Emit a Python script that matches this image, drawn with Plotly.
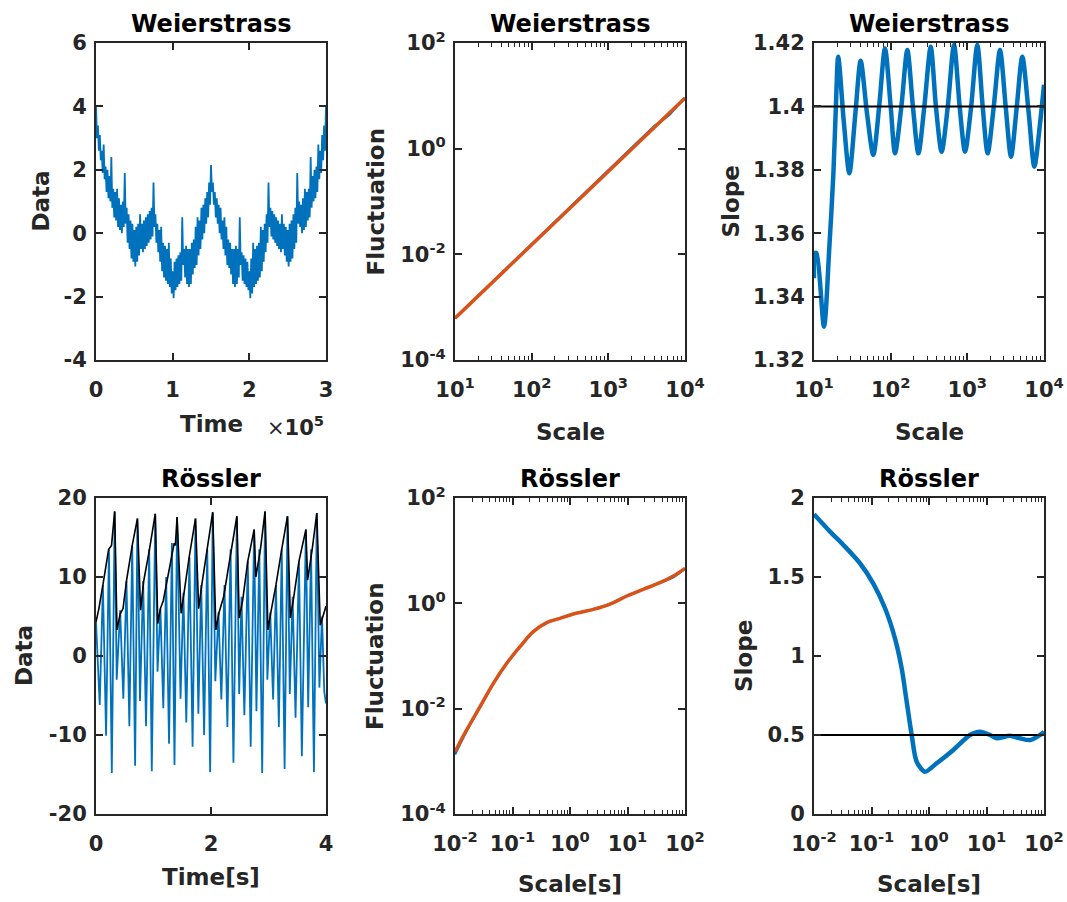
import plotly.graph_objects as go

W, H = 1067, 902
FONT = "DejaVu Sans"
DARK = "#262626"
BLUE = "#0072BD"
ORANGE = "#D95319"

# ---------------- data ----------------
# Panel 1: Weierstrass time series (time in samples, value) - alternating upper/lower band samples
weier_time = [i * 1250 for i in range(241)]
weier_data = [
    4.0, 3.0, 3.4, 2.6, 3.1, 2.3, 2.6, 1.9, 2.8, 1.7,
    2.1, 1.3, 2.0, 1.1, 1.8, 1.0, 2.4, 0.8, 1.4, 0.5,
    1.3, 0.4, 1.4, 0.2, 1.1, 0.1, 0.9, 0.0, 1.0, 0.2,
    1.9, 0.3, 0.8, -0.3, 0.6, -0.5, 0.4, -0.8, 0.3, -0.9,
    0.1, -1.05, 0.2, -0.9, 0.3, -0.7, 0.6, -0.5, 0.3, -0.6,
    0.4, -0.5, 0.5, -0.4, 0.6, -0.3, 0.7, -0.2, 0.8, -0.1,
    1.6, 0.2, 0.6, -0.3, 0.3, -0.6, 0.1, -0.9, 0.2, -1.2,
    -0.3, -1.4, -0.4, -1.5, -0.5, -1.6, -0.3, -1.7, -0.8, -1.9,
    -1.2, -2.05, -0.9, -1.8, -0.8, -1.7, -0.7, -1.6, -0.6, -1.5,
    0.5, -1.0, -0.5, -1.4, -0.4, -1.6, -0.5, -1.7, -0.5, -1.6,
    -0.3, -1.3, -0.2, -1.1, 0.2, -1.0, 0.5, -0.7, 0.4, -0.5,
    0.8, -0.2, 0.9, 0.0, 1.1, 0.3, 1.3, 0.5, 1.6, 0.9,
    2.15, 1.3,
    1.6, 0.9, 1.3, 0.5, 1.1, 0.3, 0.9, 0.0, 0.8, -0.2,
    0.4, -0.5, 0.5, -0.7, 0.2, -1.0, -0.2, -1.1, -0.3, -1.3,
    -0.5, -1.6, -0.5, -1.7, -0.4, -1.6, -0.5, -1.4, 0.5, -1.0,
    -0.6, -1.5, -0.7, -1.6, -0.8, -1.7, -0.9, -1.8, -1.2, -2.05,
    -0.8, -1.9, -0.3, -1.7, -0.5, -1.6, -0.4, -1.5, -0.3, -1.4,
    0.2, -1.2, 0.1, -0.9, 0.3, -0.6, 0.6, -0.3, 1.6, 0.2,
    0.8, -0.1, 0.7, -0.2, 0.6, -0.3, 0.5, -0.4, 0.4, -0.5,
    0.3, -0.6, 0.6, -0.5, 0.3, -0.7, 0.2, -0.9, 0.1, -1.05,
    0.3, -0.9, 0.4, -0.8, 0.6, -0.5, 0.8, -0.3, 1.9, 0.3,
    1.0, 0.2, 0.9, 0.0, 1.1, 0.1, 1.4, 0.2, 1.3, 0.4,
    1.4, 0.5, 2.4, 0.8, 1.8, 1.0, 2.0, 1.1, 2.1, 1.3,
    2.8, 1.7, 2.6, 1.9, 3.1, 2.3, 3.4, 2.6, 4.0,
]

# Panel 2: Weierstrass fluctuation function
weier_scale = [10, 20, 50, 100, 200, 500, 1000, 2000, 4000, 5000, 6300, 8000, 10000]
weier_fluct = [6.2e-4, 1.63e-3, 5.9e-3, 1.55e-2, 4.08e-2, 0.148, 0.389, 1.03,
               2.7, 3.4, 4.4, 6.6, 9.1]
weier_fit_scale = [10, 10000]
weier_fit_fluct = [6.2e-4, 9.1]

# Panel 3: Weierstrass local slope
weier_slope_scale = [10.0, 10.3, 10.8, 13.5, 15.8, 17.9, 19.3, 20.7, 24.5, 28.9,
                     34.7, 40.6, 49.0, 59.4, 70.8, 84.3, 100, 114, 138, 165,
                     195, 230, 275, 333, 389, 462, 556, 670, 794, 933,
                     1122, 1349, 1585, 1841, 2213, 2667, 3162, 3715, 4416, 5212,
                     6310, 7482, 8913, 10000]
weier_slope = [1.3458, 1.3537, 1.3537, 1.3305, 1.3550, 1.3789, 1.4000, 1.4157, 1.3950, 1.3789,
               1.3980, 1.4144, 1.3980, 1.3847, 1.4000, 1.4183, 1.4000, 1.3852, 1.4000, 1.4178,
               1.4000, 1.3852, 1.4000, 1.4188, 1.4000, 1.3857, 1.4000, 1.4194, 1.4000, 1.3857,
               1.4000, 1.4194, 1.4000, 1.3852, 1.4000, 1.4178, 1.4000, 1.3841, 1.4000, 1.4157,
               1.3980, 1.3810, 1.3950, 1.4068]
weier_ref_slope = 1.4

# Panel 4: Rössler x-component and its upper envelope
ross_t = [0.000, 0.065, 0.120, 0.175, 0.225, 0.275, 0.325, 0.360,
          0.420, 0.475, 0.530, 0.580, 0.630, 0.680, 0.720, 0.765,
          0.820, 0.870, 0.925, 0.970, 1.030, 1.070,
          1.120, 1.170, 1.220, 1.270, 1.320, 1.365, 1.410, 1.470,
          1.520, 1.570, 1.625, 1.680, 1.730, 1.780,
          1.830, 1.880, 1.935, 1.985, 2.030, 2.075,
          2.130, 2.180, 2.235, 2.285, 2.340, 2.390, 2.450, 2.490,
          2.530, 2.580, 2.640, 2.690, 2.750, 2.790, 2.840, 2.890, 2.940, 2.980,
          3.030, 3.080, 3.130, 3.180, 3.230, 3.280, 3.330, 3.370,
          3.420, 3.470, 3.530, 3.580, 3.650, 3.690, 3.740, 3.790, 3.840, 3.885,
          3.930, 3.970, 4.000]
ross_x = [4.3, -6.2, 9.0, -10.1, 13.5, -14.8, 18.3, -3.0,
          5.8, -5.4, 9.5, -8.9, 14.0, -13.9, 17.4, -5.7,
          9.5, -8.9, 13.5, -14.6, 18.0, -2.0,
          6.0, -6.6, 10.0, -11.1, 14.3, -13.8, 17.6, -5.4,
          8.0, -8.4, 12.5, -11.5, 17.4, -7.3,
          9.0, -10.0, 13.5, -14.7, 18.2, -3.2,
          5.5, -5.5, 9.0, -9.0, 13.5, -13.5, 17.7, -4.8,
          7.5, -7.5, 12.0, -11.5, 16.0, -7.0, 13.5, -14.8, 18.3, -3.0,
          5.5, -5.5, 9.0, -9.0, 13.5, -14.3, 17.7, -4.8,
          7.5, -7.8, 12.0, -12.7, 16.0, -6.5, 13.5, -14.7, 18.1, -4.0,
          5.0, -4.5, -6.0]
env_t = [0.00, 0.05, 0.12, 0.22, 0.27, 0.325, 0.365, 0.42, 0.47, 0.53, 0.63, 0.72,
         0.775, 0.83, 0.93, 1.03, 1.075, 1.12, 1.17, 1.26, 1.36, 1.38, 1.41,
         1.48, 1.53, 1.62, 1.73, 1.785, 1.84, 1.93, 2.03, 2.085, 2.14, 2.22, 2.34, 2.45,
         2.49, 2.55, 2.64, 2.75, 2.78, 2.86, 2.94, 2.99, 3.04, 3.13, 3.23, 3.33,
         3.38, 3.43, 3.53, 3.65, 3.68, 3.76, 3.84, 3.90, 4.00]
env_x = [4.3, 6.0, 9.0, 13.5, 14.0, 18.3, 3.3, 5.3, 6.0, 9.5, 14.0, 17.4,
         5.8, 9.5, 13.5, 18.0, 4.1, 6.0, 7.0, 10.5, 14.3, 14.0, 17.6,
         5.4, 8.0, 12.5, 17.4, 6.0, 9.0, 13.5, 18.2, 3.3, 5.5, 7.5, 13.0, 17.7,
         4.8, 7.0, 12.0, 16.0, 10.0, 13.5, 18.3, 3.3, 5.5, 9.0, 13.5, 17.7,
         4.8, 7.0, 12.0, 16.0, 9.6, 13.5, 18.1, 3.9, 6.3]

# Panel 5: Rössler fluctuation function
ross_scale = [0.01, 0.01596, 0.0272, 0.0465, 0.0793, 0.135, 0.230, 0.394, 0.670,
              1.14, 2.54, 4.97, 9.68, 18.8, 36.7, 62.7, 100]
ross_fluct = [1.35e-3, 3.8e-3, 1.07e-2, 3.0e-2, 7.2e-2, 0.150, 0.290, 0.430, 0.519,
              0.628, 0.769, 0.970, 1.377, 1.845, 2.466, 3.15, 4.62]
ross_fit = [1.52e-3, 3.94e-3, 1.09e-2, 3.03e-2, 7.26e-2, 0.150, 0.290, 0.430, 0.519,
            0.628, 0.769, 0.970, 1.377, 1.845, 2.466, 3.304, 4.62]

# Panel 6: Rössler local slope
ross_slope_scale = [0.01, 0.019, 0.0324, 0.063, 0.107, 0.172, 0.256, 0.335, 0.409,
                    0.5, 0.611, 0.851, 1.36, 2.65, 5.16, 7.71, 11.5, 15.0, 25.6,
                    38.3, 57.1, 85.1, 100]
ross_slope = [1.897, 1.787, 1.703, 1.587, 1.460, 1.302, 1.112, 0.922, 0.711,
              0.500, 0.331, 0.268, 0.321, 0.405, 0.500, 0.521, 0.500, 0.479, 0.496,
              0.479, 0.468, 0.500, 0.520]
ross_ref_slope = 0.5

# tick definitions
t1_xvals, t1_xtext = [0, 1e5, 2e5, 3e5], ["0", "1", "2", "3"]
t1_yvals = [-4, -2, 0, 2, 4, 6]
wlog_xvals = [10, 100, 1000, 10000]
wlog_xtext = ["10<sup>1</sup>", "10<sup>2</sup>", "10<sup>3</sup>", "10<sup>4</sup>"]
flog_yvals = [1e-4, 1e-2, 1, 100]
flog_ytext = ["10<sup>-4</sup>", "10<sup>-2</sup>", "10<sup>0</sup>", "10<sup>2</sup>"]
t3_yvals = [1.32, 1.34, 1.36, 1.38, 1.40, 1.42]
t3_ytext = ["1.32", "1.34", "1.36", "1.38", "1.4", "1.42"]
t4_xvals = [0, 2, 4]
t4_yvals = [-20, -10, 0, 10, 20]
rlog_xvals = [0.01, 0.1, 1, 10, 100]
rlog_xtext = ["10<sup>-2</sup>", "10<sup>-1</sup>", "10<sup>0</sup>", "10<sup>1</sup>", "10<sup>2</sup>"]
t6_yvals = [0, 0.5, 1, 1.5, 2]
t6_ytext = ["0", "0.5", "1", "1.5", "2"]

# ---------------- layout geometry (pixels) ----------------
cols = [(96, 326), (455, 685), (814, 1044)]
rows = [(43, 360), (498, 814)]


def fx(p):
    return p / W


def fy(p):
    return 1 - p / H


fig = go.Figure()

fig.add_trace(go.Scatter(x=weier_time, y=weier_data, mode="lines",
                         line=dict(color=BLUE, width=1.8, simplify=False), xaxis="x", yaxis="y"))
fig.add_trace(go.Scatter(x=weier_scale, y=weier_fluct, mode="lines",
                         line=dict(color=BLUE, width=2.5), xaxis="x2", yaxis="y2"))
fig.add_trace(go.Scatter(x=weier_fit_scale, y=weier_fit_fluct, mode="lines",
                         line=dict(color=ORANGE, width=3.5), xaxis="x2", yaxis="y2"))
fig.add_trace(go.Scatter(x=weier_slope_scale, y=weier_slope, mode="lines",
                         line=dict(color=BLUE, width=4.5, shape="spline", smoothing=0.8),
                         xaxis="x3", yaxis="y3"))
fig.add_trace(go.Scatter(x=[weier_slope_scale[0], weier_slope_scale[-1]],
                         y=[weier_ref_slope, weier_ref_slope], mode="lines",
                         line=dict(color="black", width=2), xaxis="x3", yaxis="y3"))
fig.add_trace(go.Scatter(x=ross_t, y=ross_x, mode="lines",
                         line=dict(color=BLUE, width=1.8, simplify=False), xaxis="x4", yaxis="y4"))
fig.add_trace(go.Scatter(x=env_t, y=env_x, mode="lines",
                         line=dict(color="black", width=1.6), xaxis="x4", yaxis="y4"))
fig.add_trace(go.Scatter(x=ross_scale, y=ross_fluct, mode="lines",
                         line=dict(color=BLUE, width=2.5, shape="spline"), xaxis="x5", yaxis="y5"))
fig.add_trace(go.Scatter(x=ross_scale, y=ross_fit, mode="lines",
                         line=dict(color=ORANGE, width=3.5, shape="spline"), xaxis="x5", yaxis="y5"))
fig.add_trace(go.Scatter(x=ross_slope_scale, y=ross_slope, mode="lines",
                         line=dict(color=BLUE, width=4.5, shape="spline", smoothing=0.8),
                         xaxis="x6", yaxis="y6"))
fig.add_trace(go.Scatter(x=[ross_slope_scale[0], ross_slope_scale[-1]],
                         y=[ross_ref_slope, ross_ref_slope], mode="lines",
                         line=dict(color="black", width=2), xaxis="x6", yaxis="y6"))

tickfont = dict(family=FONT, size=21, color=DARK, weight="bold")
common = dict(showline=True, linecolor=DARK, linewidth=2, mirror="allticks",
              ticks="inside", ticklen=7, tickwidth=1.5, tickcolor=DARK,
              showgrid=False, zeroline=False, tickfont=tickfont, fixedrange=True,
              automargin=False)
minor = dict(ticks="inside", ticklen=4, tickwidth=1, tickcolor=DARK, showgrid=False,
             dtick="D1")

specs = [
    (dict(range=[0, 3e5], tickmode="array", tickvals=t1_xvals, ticktext=t1_xtext),
     dict(range=[-4, 6], tickmode="array", tickvals=t1_yvals, ticktext=[str(v) for v in t1_yvals])),
    (dict(type="log", range=[1, 4], tickmode="array", tickvals=wlog_xvals, ticktext=wlog_xtext, minor=minor),
     dict(type="log", range=[-4, 2], tickmode="array", tickvals=flog_yvals, ticktext=flog_ytext)),
    (dict(type="log", range=[1, 4], tickmode="array", tickvals=wlog_xvals, ticktext=wlog_xtext, minor=minor),
     dict(range=[1.32, 1.42], tickmode="array", tickvals=t3_yvals, ticktext=t3_ytext)),
    (dict(range=[0, 4], tickmode="array", tickvals=t4_xvals, ticktext=[str(v) for v in t4_xvals]),
     dict(range=[-20, 20], tickmode="array", tickvals=t4_yvals, ticktext=[str(v) for v in t4_yvals])),
    (dict(type="log", range=[-2, 2], tickmode="array", tickvals=rlog_xvals, ticktext=rlog_xtext, minor=minor),
     dict(type="log", range=[-4, 2], tickmode="array", tickvals=flog_yvals, ticktext=flog_ytext)),
    (dict(type="log", range=[-2, 2], tickmode="array", tickvals=rlog_xvals, ticktext=rlog_xtext, minor=minor),
     dict(range=[0, 2], tickmode="array", tickvals=t6_yvals, ticktext=t6_ytext)),
]

layout_axes = {}
for k, (xc, yc) in enumerate(specs):
    r, c = divmod(k, 3)
    x0, x1 = cols[c]
    y0, y1 = rows[r]
    n = "" if k == 0 else str(k + 1)
    xa = dict(common)
    xa.update(xc)
    xa.update(domain=[fx(x0), fx(x1)], anchor="y" + n, ticklabelstandoff=10)
    ya = dict(common)
    ya.update(yc)
    ya.update(domain=[fy(y1), fy(y0)], anchor="x" + n, ticklabelstandoff=3)
    layout_axes["xaxis" + n] = xa
    layout_axes["yaxis" + n] = ya

fig.update_layout(**layout_axes)

titles = ["Weierstrass", "Weierstrass", "Weierstrass", "Rössler", "Rössler", "Rössler"]
xlabels = ["Time", "Scale", "Scale", "Time[s]", "Scale[s]", "Scale[s]"]
ylabels = ["Data", "Fluctuation", "Slope", "Data", "Fluctuation", "Slope"]
title_y = [24, 479]
xlabel_y = [[424, 432, 432], [877, 884, 884]]
ylabel_x = [[40, 375, 730], [24, 375, 744]]

ann = []
lab_font = dict(family=FONT, size=23, color=DARK, weight="bold")
tit_font = dict(family=FONT, size=24, color="black", weight="bold")
for k in range(6):
    r, c = divmod(k, 3)
    x0, x1 = cols[c]
    y0, y1 = rows[r]
    cx = (x0 + x1) / 2
    cy = (y0 + y1) / 2
    ann.append(dict(text=titles[k], x=fx(cx), y=fy(title_y[r]), xref="paper", yref="paper",
                    xanchor="center", yanchor="middle", showarrow=False, font=tit_font))
    ann.append(dict(text=xlabels[k], x=fx(cx), y=fy(xlabel_y[r][c]), xref="paper", yref="paper",
                    xanchor="center", yanchor="middle", showarrow=False, font=lab_font))
    ann.append(dict(text=ylabels[k], x=fx(ylabel_x[r][c]), y=fy(cy), xref="paper", yref="paper",
                    xanchor="center", yanchor="middle", showarrow=False, textangle=-90,
                    font=lab_font))
ann.append(dict(text="×<b>10</b><sup><b>5</b></sup>", x=fx(295), y=fy(426), xref="paper", yref="paper",
                xanchor="center", yanchor="middle", showarrow=False,
                font=dict(family=FONT, size=21, color=DARK)))

fig.update_layout(annotations=ann, width=W, height=H, showlegend=False,
                  margin=dict(l=0, r=0, t=0, b=0, autoexpand=False), paper_bgcolor="white",
                  plot_bgcolor="white")

fig.write_html("out.html", config={"displayModeBar": False})
